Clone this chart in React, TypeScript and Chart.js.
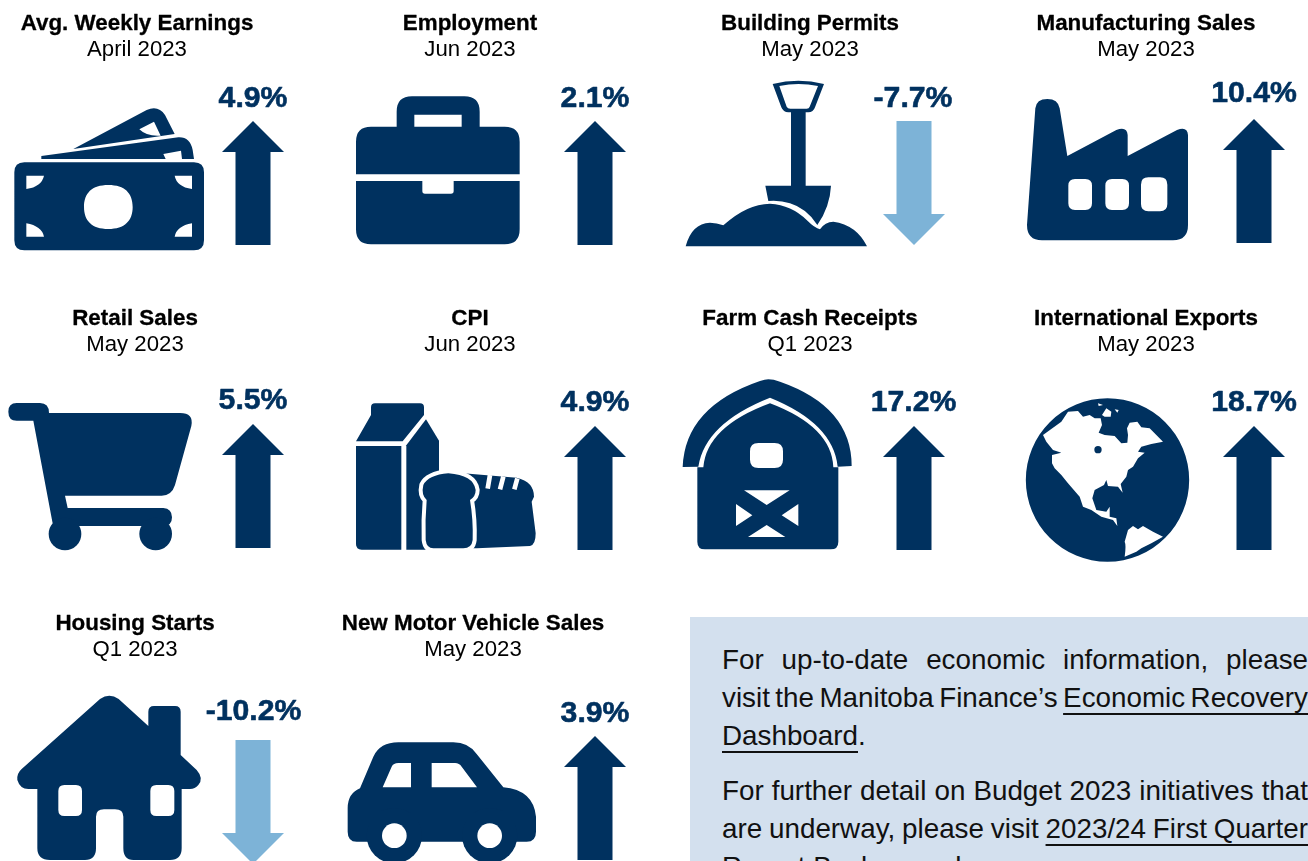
import React, { useEffect, useRef } from "react";
import { Chart, registerables } from "chart.js";

Chart.register(...registerables);

// ---- Data ----
const categories = [
  "Avg. Weekly Earnings", "Employment", "Building Permits", "Manufacturing Sales",
  "Retail Sales", "CPI", "Farm Cash Receipts", "International Exports",
  "Housing Starts", "New Motor Vehicle Sales",
];
const periods = [
  "April 2023", "Jun 2023", "May 2023", "May 2023",
  "May 2023", "Jun 2023", "Q1 2023", "May 2023",
  "Q1 2023", "May 2023",
];
const changes = [4.9, 2.1, -7.7, 10.4, 5.5, 4.9, 17.2, 18.7, -10.2, 3.9];

// ---- Layout and style (kept apart from the data) ----
const DARK = "#00315f";
const LIGHT = "#7db3d7";
const FONT = '"Liberation Sans", Arial, sans-serif';
const titleCenter = [137, 470, 810, 1146, 135, 470, 810, 1146, 135, 473];
const titleBase = [30, 30, 30, 30, 325, 325, 325, 325, 630, 630];
const valueCenter = [253, 595, 913, 1254, 253, 595, 913.5, 1254, 253.5, 595];
const valueBase = [106.5, 106.5, 106.5, 101.5, 409, 411, 411, 411, 720, 722];
const arrowCenterX = [253, 595, 914, 1254, 253, 595, 914, 1254, 253, 595];
const arrowTop = [121, 121, 121, 119, 424, 426, 426, 426, 740, 736];
const cropX = [0, 330, 660, 978, 0, 330, 660, 978, 0, 330];
const cropY = [0, 0, 0, 0, 300, 300, 300, 300, 600, 600];

const rr = (x: number, y: number, w: number, h: number, r: number) =>
  `M${x + r} ${y}H${x + w - r}Q${x + w} ${y} ${x + w} ${y + r}V${y + h - r}Q${x + w} ${y + h} ${x + w - r} ${y + h}H${x + r}Q${x} ${y + h} ${x} ${y + h - r}V${y + r}Q${x} ${y} ${x + r} ${y}Z`;
const circ = (cx: number, cy: number, r: number) =>
  `M${cx - r} ${cy}A${r} ${r} 0 1 0 ${cx + r} ${cy}A${r} ${r} 0 1 0 ${cx - r} ${cy}Z`;

type Part = { d: string; white?: boolean; halo?: number };

const iconParts: Part[][] = [
  // money
  [
    { d: rr(43, 487, 569, 264, 30) +
        "M325 555C375 555 398 580 398 621C398 662 375 687 325 687C275 687 252 662 252 621C252 580 275 555 325 555Z" +
        "M79 527H132Q125 560 79 567Z M576 527H524Q530 560 576 567Z M79 710V670Q125 678 132 710Z M576 710V670Q530 678 524 710Z" },
    { d: "M124 468L535 412Q570 410 578 450L582 477H124Z M490 462L543 452L546 477H497Z" },
    { d: "M220 447L440 330Q475 315 495 345L524 402Z M418 388L462 365L482 407Q440 410 418 388Z" },
  ],
  // briefcase
  [
    { d: "M123 380H200V335Q200 289 246 289H403Q449 289 449 335V380H524Q569 380 569 425V523H78V425Q78 380 123 380Z M253 344H395V380H253Z" },
    { d: "M78 543H277V573Q277 581 285 581H363Q371 581 371 573V543H569V688Q569 733 524 733H123Q78 733 78 688Z" },
  ],
  // shovel
  [
    { d: "M338 252Q415 232 492 252L465 322Q460 337 445 337H385Q370 337 364 322Z M358 258Q415 246 474 258L449 320Q447 326 440 326H391Q383 326 380 320Z" },
    { d: "M393 330H437V560H393Z" },
    { d: "M316 557H513Q510 620 472 675Q440 625 390 610Q360 600 325 603Z" },
    { d: "M77 739Q95 670 150 668Q170 668 190 676Q260 612 330 611Q395 615 440 660Q465 685 480 688Q495 665 520 665Q590 675 621 739Z" },
  ],
  // factory
  [
    { d: "M172 325Q175 297 208 297Q240 297 245 325L268 468L415 390Q447 378 449 405V468L597 390Q628 378 630 405V675Q630 721 585 721H192Q147 721 147 675Z" +
        rr(271, 537, 71, 93, 20) + rr(382, 537, 71, 93, 20) + rr(489, 532, 79, 102, 22) },
  ],
  // cart
  [
    { d: "M50 309H120Q147 309 147 339H540Q582 339 574 378L525 555Q515 587 485 587H195L203 624H490Q516 626 516 652Q516 678 490 678H160L157 665L100 362H50Q25 362 25 335Q25 309 50 309Z" },
    { d: circ(195, 702, 49) },
    { d: circ(467, 702, 49) },
  ],
  // milk and bread
  [
    { d: "M123 345V322Q123 310 135 310H270Q282 310 282 322V345L218 424H78Z" },
    { d: "M78 438H214V749H95Q78 749 78 732Z" },
    { d: "M229 436L288 358L327 422V749H229Z" },
    { d: "M400 520L560 533Q612 545 612 590L605 605L617 700Q617 735 600 738L440 745H330V520Z" },
    { d: "M480 525L473 566M520 530L510 568M562 535L553 568", white: true, halo: 14 },
    { d: "M355 520Q430 525 437 570Q437 590 420 600Q430 660 428 720Q425 745 400 745H310Q290 745 287 720Q285 660 290 600Q273 585 280 555Q295 525 355 520Z", halo: 24 },
  ],
  // barn
  [
    { d: "M325 238Q340 238 360 245Q575 320 575 498L533 500Q520 370 330 293Q135 370 115 500L68 501Q75 320 300 243Q315 238 325 238Z" },
    { d: "M112 502H130Q140 380 330 310Q515 380 520 502H535V725Q535 748 512 748H135Q112 748 112 725Z" +
        rr(270, 429, 99, 75, 25) +
        "M252 571H389L320 615Z M228 612L277 646L228 678Z M415 612L365 646L415 678Z M320 675L376 711H264Z" },
  ],
  // globe
  [
    { d: circ(388.5, 540, 245) },
    { d: "M195 405L250 365L270 335L300 333L315 350L335 345L350 355L368 355L372 375L362 398L380 405L410 408L430 430L448 428L450 405L447 385L455 368L478 365L490 382L515 385L535 405L555 425L520 432L490 440L480 455L500 458L480 475L465 500L450 510L445 530L428 552L434 578L420 560L390 558L385 540L378 555L350 570L343 595L355 630L385 635L395 620L395 650L415 655L418 678L405 660L370 650L340 630L315 620L305 590L270 550L250 525L230 505L222 490L222 465L250 458L225 450L205 425Z", white: true },
    { d: "M360 310L375 315L362 318Z M372 345L385 325L400 335L398 350L380 350Z M410 328L422 330L418 338Z", white: true },
    { d: "M440 770Q445 735 440 725L450 690L465 678L480 688L495 678L525 695L555 710L520 730L490 745L475 755Z", white: true },
    { d: circ(360, 449, 11) },
  ],
  // house
  [
    { d: "M300 297Q328 277 356 297L445 378V335Q445 318 462 318H525Q542 318 542 335V465L590 510Q612 535 595 555Q585 567 570 567H545V745Q545 780 510 780H400Q370 780 370 745V650Q370 628 345 628H312Q288 628 288 650V745Q288 780 255 780H150Q112 780 112 745V567H85Q60 567 52 540Q50 520 65 507Z" +
        rr(175, 555, 71, 93, 18) + rr(451, 555, 72, 93, 18) },
  ],
  // car
  [
    { d: "M90 565L130 470Q150 427 205 427H370Q415 427 440 462L520 562Q610 570 618 650V695Q618 725 590 725H80Q53 725 53 695V625Q53 580 90 565Z M158 562L185 500Q190 489 205 489H243V562Z M305 489H375Q388 489 395 500L441 562H305Z" },
    { d: circ(193, 707, 83) },
    { d: circ(479, 707, 83) },
    { d: circ(193, 707, 37), white: true },
    { d: circ(479, 707, 37), white: true },
  ],
];

const CROP_W = 330;
const CROP_H = 270;

function iconSprite(parts: Part[]) {
  const c = document.createElement("canvas");
  c.width = CROP_W;
  c.height = CROP_H;
  const g = c.getContext("2d")!;
  g.scale(1 / 3, 1 / 3);
  for (const p of parts) {
    const path = new Path2D(p.d);
    if (p.halo) {
      g.strokeStyle = "#ffffff";
      g.lineWidth = p.halo;
      g.lineJoin = "round";
      g.stroke(path);
    }
    if (!(p.white && p.halo)) {
      g.fillStyle = p.white ? "#ffffff" : DARK;
      g.fill(path, "evenodd");
    }
  }
  return c;
}

const ARROW_W = 64;
const ARROW_H = 124;

function arrowSprite(change: number) {
  const c = document.createElement("canvas");
  c.width = ARROW_W;
  c.height = ARROW_H;
  const g = c.getContext("2d")!;
  const m = ARROW_W / 2;
  g.fillStyle = change >= 0 ? DARK : LIGHT;
  g.beginPath();
  if (change >= 0) {
    g.moveTo(m, 0); g.lineTo(m + 31, 31); g.lineTo(m + 17.5, 31); g.lineTo(m + 17.5, ARROW_H);
    g.lineTo(m - 17.5, ARROW_H); g.lineTo(m - 17.5, 31); g.lineTo(m - 31, 31);
  } else {
    g.moveTo(m - 17.5, 0); g.lineTo(m + 17.5, 0); g.lineTo(m + 17.5, 93); g.lineTo(m + 31, 93);
    g.lineTo(m, ARROW_H); g.lineTo(m - 31, 93); g.lineTo(m - 17.5, 93);
  }
  g.closePath();
  g.fill();
  return c;
}

const textPlugin = {
  id: "tileText",
  afterDatasetsDraw(chart: any) {
    const { ctx, scales } = chart;
    const X = (v: number) => scales.x.getPixelForValue(v);
    const Y = (v: number) => scales.y.getPixelForValue(v);
    ctx.save();
    ctx.textAlign = "center";
    ctx.textBaseline = "alphabetic";
    ctx.lineJoin = "round";
    categories.forEach((name, i) => {
      ctx.fillStyle = "#000000";
      ctx.strokeStyle = "#000000";
      ctx.lineWidth = 0.3;
      ctx.font = `bold 22.4px ${FONT}`;
      ctx.fillText(name, X(titleCenter[i]), Y(titleBase[i]));
      ctx.strokeText(name, X(titleCenter[i]), Y(titleBase[i]));
      ctx.font = `22.2px ${FONT}`;
      ctx.fillText(periods[i], X(titleCenter[i]), Y(titleBase[i] + 26));
      const label = `${changes[i].toFixed(1)}%`;
      ctx.fillStyle = DARK;
      ctx.strokeStyle = DARK;
      ctx.lineWidth = 0.6;
      ctx.font = `bold 30.2px ${FONT}`;
      ctx.fillText(label, X(valueCenter[i]), Y(valueBase[i]));
      ctx.strokeText(label, X(valueCenter[i]), Y(valueBase[i]));
    });
    ctx.restore();
  },
};

const PANEL_TOP = 617;
const TEXT_LEFT = 32;
const TEXT_WIDTH = 586;
const lineStyle = (baseline: number): React.CSSProperties => ({
  position: "absolute",
  left: TEXT_LEFT,
  top: baseline - 27 - PANEL_TOP,
  height: 38,
  lineHeight: "38px",
  whiteSpace: "nowrap",
});
const link: React.CSSProperties = {
  textDecoration: "underline",
  textDecorationThickness: "1.5px",
  textUnderlineOffset: "6px",
};

export default function App() {
  const ref = useRef<HTMLCanvasElement>(null);
  const panel = useRef<HTMLDivElement>(null);
  useEffect(() => {
    // Full-width lines stretch or tighten their word gaps to end at the panel's right edge.
    panel.current!.querySelectorAll<HTMLElement>("[data-fit]").forEach((el) => {
      const gaps = (el.textContent || "").split(" ").length - 1;
      el.style.wordSpacing = "0px";
      el.style.wordSpacing = `${(TEXT_WIDTH - el.getBoundingClientRect().width) / gaps}px`;
    });
    const chart = new Chart(ref.current!, {
      type: "scatter",
      data: {
        datasets: [
          {
            label: "Icons",
            data: categories.map((_, i) => ({ x: cropX[i] + CROP_W / 2, y: cropY[i] + CROP_H / 2 })),
            pointStyle: iconParts.map(iconSprite) as any,
            pointRadius: 10,
            clip: false as any,
          },
          {
            label: "Change",
            data: changes.map((_, i) => ({ x: arrowCenterX[i], y: arrowTop[i] + ARROW_H / 2 })),
            pointStyle: changes.map(arrowSprite) as any,
            pointRadius: 10,
            clip: false as any,
          },
        ],
      },
      options: {
        responsive: false,
        animation: false,
        layout: { padding: 0, autoPadding: false },
        events: [],
        plugins: { legend: { display: false }, tooltip: { enabled: false }, title: { display: false } },
        scales: {
          x: { type: "linear", min: 0, max: 1308, display: false },
          y: { type: "linear", min: 0, max: 861, reverse: true, display: false },
        },
      },
      plugins: [textPlugin],
    });
    return () => chart.destroy();
  }, []);

  return (
    <div style={{ position: "fixed", left: 0, top: 0, width: 1308, height: 861, overflow: "hidden", background: "#fff" }}>
      <canvas ref={ref} width={1308} height={861} style={{ position: "absolute", left: 0, top: 0 }} />
      <div
        ref={panel}
        style={{
          position: "absolute", left: 690, top: PANEL_TOP, width: 640, height: 260,
          background: "#d3e0ee", color: "#111", font: `27.8px ${FONT}`,
        }}
      >
        <div data-fit="1" style={lineStyle(668)}>For up-to-date economic information, please</div>
        <div data-fit="1" style={lineStyle(706)}>visit the Manitoba Finance’s <span style={link}>Economic Recovery</span></div>
        <div style={lineStyle(744)}><span style={link}>Dashboard</span>.</div>
        <div data-fit="1" style={lineStyle(799)}>For further detail on Budget 2023 initiatives that</div>
        <div data-fit="1" style={lineStyle(837)}>are underway, please visit <span style={link}>2023/24 First Quarter</span></div>
        <div style={lineStyle(875)}><span style={link}>Report Backgrounder</span>.</div>
      </div>
    </div>
  );
}
